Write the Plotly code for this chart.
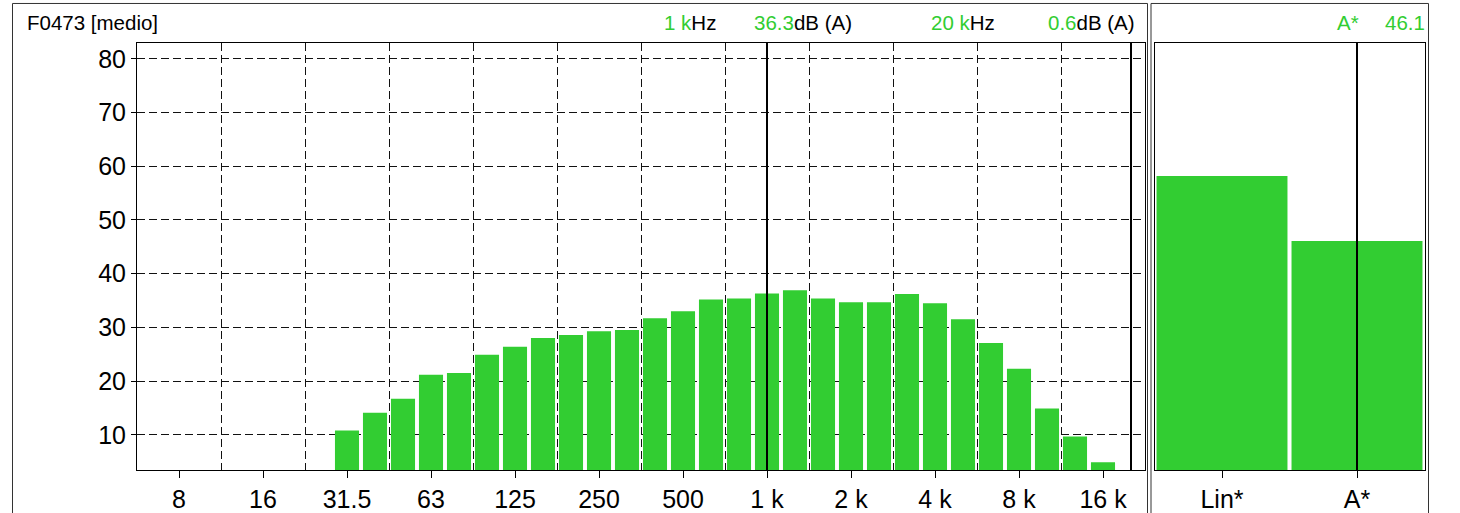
import plotly.graph_objects as go

# 1/3 octave band centres (Hz) and measured levels (dB)
bands = [8, 10, 12.5, 16, 20, 25, 31.5, 40, 50, 63, 80, 100, 125, 160, 200, 250, 315,
         400, 500, 630, 800, 1000, 1250, 1600, 2000, 2500, 3150, 4000, 5000, 6300, 8000,
         10000, 12500, 16000, 20000]
levels = [None, None, None, None, None, None, 10.8, 14.1, 16.7, 21.2, 21.5, 24.9, 26.4,
          28.0, 28.6, 29.3, 29.5, 31.7, 33.0, 35.2, 35.4, 36.3, 36.9, 35.4, 34.7, 34.7,
          36.2, 34.5, 31.5, 27.1, 22.3, 14.9, 9.7, 4.9, 0.6]
tick_freqs = [8, 16, 31.5, 63, 125, 250, 500, 1000, 2000, 4000, 8000, 16000]
tick_text = ["8", "16", "31.5", "63", "125", "250", "500", "1 k", "2 k", "4 k", "8 k", "16 k"]

total_labels = ["Lin*", "A*"]
total_levels = [58.2, 46.1]

cursor_freqs = [1000, 20000]
title = "F0473 [medio]"

GREEN = "#32CD32"
W, H = 1460, 513
FONT = "Liberation Sans, Arial, sans-serif"


def px(x):
    return x / W


def py(y):
    return (H - y) / H


idx = list(range(len(bands)))
ymin, ymax = 3.4, 83.0

fig = go.Figure()
fig.add_trace(go.Bar(x=idx, y=levels, width=0.86, marker=dict(color=GREEN, line_width=0),
                     xaxis="x", yaxis="y", showlegend=False))
fig.add_trace(go.Bar(x=[0, 1], y=total_levels, width=0.97, marker=dict(color=GREEN, line_width=0),
                     xaxis="x2", yaxis="y2", showlegend=False))

grid = dict(showgrid=True, gridcolor="#111", griddash="8px,4px", gridwidth=1)
axis_common = dict(showline=True, linecolor="black", linewidth=1, mirror=True,
                   ticks="outside", tickcolor="black", tickfont=dict(size=25, color="black", family=FONT),
                   zeroline=False, fixedrange=True)

fig.update_layout(
    width=W, height=H,
    margin=dict(l=0, r=0, t=0, b=0),
    paper_bgcolor="white", plot_bgcolor="white",
    font=dict(family=FONT, color="black"),
    xaxis=dict(domain=[px(137), px(1145)], range=[-1.5, 34.5], anchor="y",
               tickvals=[bands.index(f) for f in tick_freqs], ticktext=tick_text,
               ticklen=7, showgrid=False,
               minor=dict(tick0=1.5, dtick=3, ticklen=0, **grid),
               **axis_common),
    yaxis=dict(domain=[py(473), py(43)], range=[ymin, ymax], anchor="x",
               tickvals=[10, 20, 30, 40, 50, 60, 70, 80], ticklen=5, **grid, **axis_common),
    xaxis2=dict(domain=[px(1154.5), px(1424.5)], range=[-0.5, 1.5], anchor="y2",
                tickvals=[0, 1], ticktext=total_labels, ticklen=7, showgrid=False, **axis_common),
    yaxis2=dict(domain=[py(473), py(43)], range=[ymin, ymax], anchor="x2",
                showticklabels=False, showgrid=False, **{**axis_common, "ticks": ""}),
)

# cursor lines
for f in cursor_freqs:
    fig.add_shape(type="line", xref="x", yref="y domain", x0=bands.index(f), x1=bands.index(f),
                  y0=0, y1=1, line=dict(color="black", width=2))
fig.add_shape(type="line", xref="x2", yref="y2 domain", x0=1, x1=1, y0=0, y1=1,
              line=dict(color="black", width=2))

# panel frames
for x0, x1 in [(12.5, 1147.5), (1151, 1428.5)]:
    fig.add_shape(type="rect", xref="paper", yref="paper", x0=px(x0), x1=px(x1),
                  y0=py(520), y1=py(3.5), line=dict(color="#333", width=1), layer="below")


def green(t):
    return f"<span style='color:{GREEN}'>{t}</span>"


def fmt_freq(f):
    return f"{f // 1000:g} k" if f >= 1000 else f"{f:g} "


ty = py(22.5)
head = dict(xref="paper", yref="paper", y=ty, yanchor="middle", showarrow=False,
            font=dict(size=20.5, color="black", family=FONT))
fig.add_annotation(x=px(25), xanchor="left", text=title, **head)
c1, c2 = cursor_freqs
l1, l2 = levels[bands.index(c1)], levels[bands.index(c2)]
fig.add_annotation(x=px(718), xanchor="right", text=green(fmt_freq(c1)) + "Hz", **head)
fig.add_annotation(x=px(752), xanchor="left", text=green(f"{l1:.1f}") + "dB (A)", **head)
fig.add_annotation(x=px(997), xanchor="right", text=green(fmt_freq(c2)) + "Hz", **head)
fig.add_annotation(x=px(1137), xanchor="right", text=green(f"{l2:.1f}") + "dB (A)", **head)
fig.add_annotation(x=px(1361), xanchor="right", text=green(total_labels[1]), **head)
fig.add_annotation(x=px(1427), xanchor="right", text=green(f"{total_levels[1]:.1f}"), **head)

# drop the default page margin so the figure sits at the window's top-left corner
fig.write_html("out.html", config={"displayModeBar": False},
               post_script="document.body.style.margin='0';")
